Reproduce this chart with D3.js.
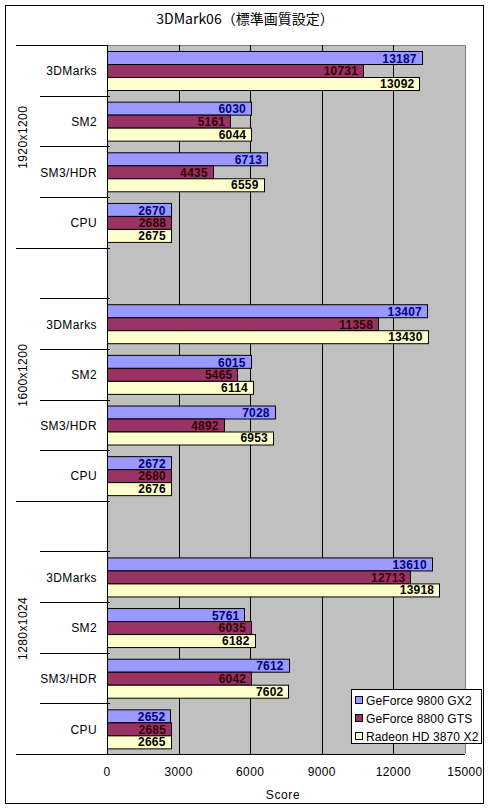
<!DOCTYPE html>
<html><head><meta charset="utf-8">
<script src="https://cdn.jsdelivr.net/npm/d3@7"></script>
<style>
html,body{margin:0;padding:0;background:#fff;}
text{font-family:"Liberation Sans",Arial,sans-serif;}
</style></head>
<body>
<svg id="chart" width="490" height="811"></svg>
<script>
const title = "3DMark06（標準画質設定）";
const groups = ["1920x1200", "1600x1200", "1280x1024"];
const tests = ["3DMarks", "SM2", "SM3/HDR", "CPU"];
const series = ["GeForce 9800 GX2", "GeForce 8800 GTS", "Radeon HD 3870 X2"];
const gx2    = [13187, 6030, 6713, 2670, 13407, 6015, 7028, 2672, 13610, 5761, 7612, 2652];
const gts    = [10731, 5161, 4435, 2688, 11358, 5465, 4892, 2680, 12713, 6035, 6042, 2685];
const radeon = [13092, 6044, 6559, 2675, 13430, 6114, 6953, 2676, 13918, 6182, 7602, 2665];
const xTicks = [0, 3000, 6000, 9000, 12000, 15000];
const xTitle = "Score";

const colors = ["#9999FF", "#993366", "#FFFFCC"];
const labelColors = ["#000080", "#330000", "#000000"];
const seriesValues = [gx2, gts, radeon];

// rows: top to bottom; blank spacer row at start of every group after the first
const rows = [];
groups.forEach((g, gi) => {
  if (gi > 0) rows.push({key: g + "|blank", group: g, test: null});
  tests.forEach((t, ti) => {
    rows.push({key: g + "|" + t, group: g, test: t,
      values: seriesValues.map(arr => arr[gi * tests.length + ti])});
  });
});

const svg = d3.select("#chart");
const L = 107, R = 465, T = 45, B = 754;

// outer frame
svg.append("rect").attr("x", 5.5).attr("y", 5.5).attr("width", 478).attr("height", 798)
  .attr("fill", "#fff").attr("stroke", "#000");

svg.append("text").attr("x", 245).attr("y", 18).attr("text-anchor", "middle")
  .attr("dominant-baseline", "central")
  .style("font-family", "'Noto Sans CJK JP',sans-serif").style("font-size", "14px")
  .text(title);

const x = d3.scaleLinear().domain([0, 15000]).range([L, R]);
const y = d3.scaleBand().domain(rows.map(r => r.key)).range([T, B]).padding(0);
const ys = d3.scaleBand().domain(series).range([0, y.bandwidth()]).paddingInner(0).paddingOuter(0.5);

// plot background
svg.append("rect").attr("x", L).attr("y", T).attr("width", R - L).attr("height", B - T)
  .attr("fill", "#C0C0C0");
// plot border top/right gray
svg.append("path").attr("d", `M${L},${T + 0.5}H${R + 0.5}V${B}`).attr("fill", "none").attr("stroke", "#808080");

// gridlines
svg.append("g").selectAll("line").data(xTicks.filter(t => t > 0 && t < 15000)).join("line")
  .attr("x1", d => Math.round(x(d)) + 0.5).attr("x2", d => Math.round(x(d)) + 0.5)
  .attr("y1", T).attr("y2", B).attr("stroke", "#000");

// bars
const rowG = svg.append("g").selectAll("g").data(rows.filter(r => r.test)).join("g")
  .attr("transform", d => `translate(0,${y(d.key)})`);
rowG.selectAll("rect").data(d => d.values.map((v, i) => ({v, i}))).join("rect")
  .attr("x", L + 0.5)
  .attr("y", d => Math.round(ys(series[d.i])) + 0.5)
  .attr("width", d => Math.round(x(d.v) - L))
  .attr("height", Math.round(ys.bandwidth()))
  .attr("fill", d => colors[d.i]).attr("stroke", "#000");
rowG.selectAll("text").data(d => d.values.map((v, i) => ({v, i}))).join("text")
  .attr("x", d => x(d.v) - 5)
  .attr("y", d => ys(series[d.i]) + ys.bandwidth() / 2 + 1)
  .attr("text-anchor", "end").attr("dominant-baseline", "central")
  .style("font-size", "12px").style("font-weight", "bold").style("letter-spacing", "0.2px")
  .attr("fill", d => labelColors[d.i])
  .text(d => d.v);

// left axis line
svg.append("line").attr("x1", L + 0.5).attr("x2", L + 0.5).attr("y1", T).attr("y2", B)
  .attr("stroke", "#000");

// category boundary ticks
const bounds = [];
rows.forEach((r, i) => {
  const yy = y(r.key);
  const prev = rows[i - 1];
  const isGroupStart = !prev || prev.group !== r.group;
  bounds.push({y: yy, long: isGroupStart, top: i === 0});
});
svg.append("g").selectAll("line").data(bounds).join("line")
  .attr("x1", d => d.long ? 16 : 40).attr("x2", d => d.top ? L : L + 3)
  .attr("y1", d => Math.round(d.y) + 0.5).attr("y2", d => Math.round(d.y) + 0.5)
  .attr("stroke", "#000");
// bottom axis line
svg.append("line").attr("x1", 16).attr("x2", R).attr("y1", B + 0.5).attr("y2", B + 0.5).attr("stroke", "#000");

// test labels
svg.append("g").selectAll("text").data(rows.filter(r => r.test)).join("text")
  .attr("x", 97).attr("y", d => y(d.key) + y.bandwidth() / 2 + 1)
  .attr("text-anchor", "end").attr("dominant-baseline", "central")
  .style("font-size", "12px").style("letter-spacing", "0.4px")
  .text(d => d.test);

// group labels
groups.forEach((g, gi) => {
  const gr = rows.filter(r => r.group === g);
  const top = y(gr[0].key), bot = y(gr[gr.length - 1].key) + y.bandwidth();
  const cy = (top + bot) / 2 + (gi === 0 ? -9 : 1);
  svg.append("text").attr("transform", `translate(23,${cy}) rotate(-90)`)
    .attr("text-anchor", "middle").attr("dominant-baseline", "central")
    .style("font-size", "12px").style("letter-spacing", "0.4px")
    .text(g);
});

// x tick labels
svg.append("g").selectAll("text").data(xTicks).join("text")
  .attr("x", d => x(d)).attr("y", 772).attr("text-anchor", "middle")
  .attr("dominant-baseline", "central").style("font-size", "12px").style("letter-spacing", "0.4px")
  .text(d => d);
svg.append("text").attr("x", 283).attr("y", 795).attr("text-anchor", "middle")
  .attr("dominant-baseline", "central").style("font-size", "12px").style("letter-spacing", "0.6px")
  .text(xTitle);

// legend
const lg = svg.append("g");
lg.append("rect").attr("x", 351.5).attr("y", 689.5).attr("width", 130).attr("height", 54)
  .attr("fill", "#fff").attr("stroke", "#000");
series.forEach((s, i) => {
  const cy = 700 + i * 18;
  lg.append("rect").attr("x", 355.5).attr("y", cy - 3.5).attr("width", 7).attr("height", 7)
    .attr("fill", colors[i]).attr("stroke", "#000");
  lg.append("text").attr("x", 366).attr("y", cy + 1).attr("dominant-baseline", "central")
    .style("font-size", "12px").style("letter-spacing", "0.1px").text(s);
});
</script>
</body></html>
